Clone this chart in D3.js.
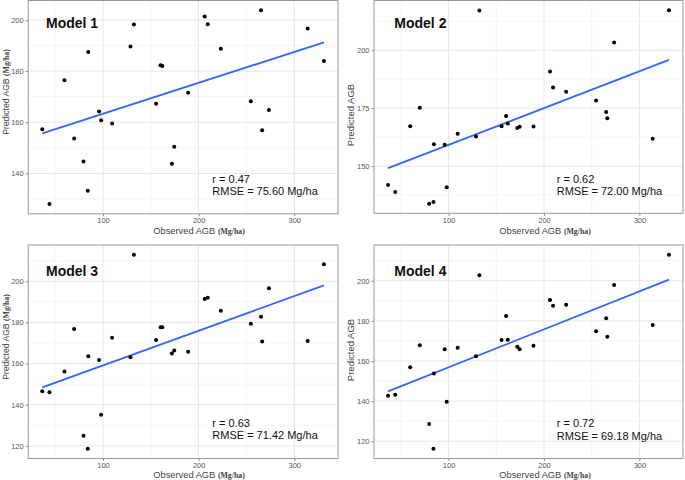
<!DOCTYPE html>
<html><head><meta charset="utf-8">
<script src="https://cdn.jsdelivr.net/npm/d3@7/dist/d3.min.js"></script>
<style>body{margin:0;background:#fff}svg{display:block}</style>
</head><body>
<svg id="c" width="685" height="480"></svg>
<script>
// ---- data ----
const observed = [36.5, 44, 59.7, 69.8, 79.6, 84.1, 84.6, 95.9, 98, 109.5, 128.7, 132.3, 155.5, 160.2, 162, 172, 174.5, 189, 206.3, 209.5, 223.2, 254.6, 265.2, 266.4, 273.5, 314, 331];
const model1 = [157.3, 128.0, 176.4, 153.6, 144.7, 133.2, 187.5, 164.2, 160.8, 159.5, 189.6, 198.2, 167.2, 182.3, 182.0, 143.8, 150.4, 171.5, 201.3, 198.3, 188.7, 168.2, 203.8, 156.9, 164.8, 196.6, 183.9];
const model2 = [141.8, 138.8, 167.2, 175.2, 133.8, 134.5, 159.4, 159.2, 140.9, 164.0, 162.8, 217.2, 167.2, 171.6, 168.4, 166.4, 167.0, 167.1, 190.8, 183.9, 182.1, 178.3, 173.4, 170.7, 203.4, 161.8, 217.3];
const model3 = [146.6, 146.1, 156.1, 176.8, 124.9, 118.6, 163.6, 161.7, 135.1, 172.6, 163.1, 212.9, 171.4, 177.7, 177.7, 164.9, 166.3, 165.8, 191.4, 192.0, 185.7, 179.3, 182.8, 170.7, 196.6, 171.0, 208.3];
const model4 = [142.6, 143.1, 156.9, 167.8, 128.6, 116.2, 153.7, 165.8, 139.7, 166.6, 162.3, 202.8, 170.5, 182.4, 170.6, 167.1, 165.8, 167.6, 190.4, 187.5, 188.0, 174.8, 181.3, 172.1, 197.9, 177.9, 213.0];
const modelNames = ["Model 1", "Model 2", "Model 3", "Model 4"];
const rValues = ["0.47", "0.62", "0.63", "0.72"];
const rmseValues = ["75.60", "72.00", "71.42", "69.18"];
const xTicks = [100, 200, 300];
const yTicks1 = [140, 160, 180, 200];
const yTicks2 = [150, 175, 200];
const yTicks3 = [120, 140, 160, 180, 200];
const yTicks4 = [120, 140, 160, 180, 200];
const xTitle = "Observed AGB";
const yTitle = "Predicted AGB";
const unitText = "(Mg/ha)";

// ---- layout ----
const series = [model1, model2, model3, model4];
const yTickSets = [yTicks1, yTicks2, yTicks3, yTicks4];
const layout = [
  {x0: 28.2, x1: 338, y0: 0.5, y1: 213.8, unitY: true, ylx: 8.5, yly: 92, xlx: 153.3, xly: 233.5, tx: 46, ty: 28.3, sx: 212.3, sy: 182.7, yfs: 8.6},
  {x0: 374, x1: 683, y0: 0.5, y1: 213.3, unitY: false, ylx: 354, yly: 115, xlx: 499.3, xly: 233.5, tx: 394.3, ty: 28.3, sx: 556.7, sy: 182.7, yfs: 9.5},
  {x0: 28.2, x1: 338, y0: 245, y1: 458.5, unitY: true, ylx: 8.5, yly: 337, xlx: 153.3, xly: 478.3, tx: 46, ty: 275.7, sx: 212.3, sy: 426.7, yfs: 8.6},
  {x0: 374, x1: 683, y0: 245, y1: 458.5, unitY: false, ylx: 354, yly: 350, xlx: 499.3, xly: 478.3, tx: 394.3, ty: 275.7, sx: 556.7, sy: 427.3, yfs: 9.5}
];

const svg = d3.select("#c");
const sans = "'Liberation Sans', Arial, sans-serif";
const serif = "'Liberation Serif', 'Times New Roman', serif";

function expand(ext) { const d = ext[1] - ext[0]; return [ext[0] - 0.05 * d, ext[1] + 0.05 * d]; }
function minorOf(ticks, dom) {
  const step = ticks[1] - ticks[0];
  const out = [];
  for (let v = ticks[0] - step / 2; v <= dom[1]; v += step) if (v >= dom[0]) out.push(v);
  return out;
}

series.forEach((ys, i) => {
  const L = layout[i];
  const xd = expand(d3.extent(observed));
  const yd = expand(d3.extent(ys));
  const x = d3.scaleLinear().domain(xd).range([L.x0, L.x1]);
  const y = d3.scaleLinear().domain(yd).range([L.y1, L.y0]);
  const g = svg.append("g");

  // minor grid
  const xMinor = minorOf(xTicks, xd), yMinor = minorOf(yTickSets[i], yd);
  g.selectAll(".xm").data(xMinor).enter().append("line")
    .attr("x1", d => x(d)).attr("x2", d => x(d)).attr("y1", L.y0).attr("y2", L.y1)
    .attr("stroke", "#f2f2f2").attr("stroke-width", 0.8);
  g.selectAll(".ym").data(yMinor).enter().append("line")
    .attr("y1", d => y(d)).attr("y2", d => y(d)).attr("x1", L.x0).attr("x2", L.x1)
    .attr("stroke", "#f2f2f2").attr("stroke-width", 0.8);
  // major grid
  g.selectAll(".xg").data(xTicks).enter().append("line")
    .attr("x1", d => x(d)).attr("x2", d => x(d)).attr("y1", L.y0).attr("y2", L.y1)
    .attr("stroke", "#e6e6e6").attr("stroke-width", 1);
  g.selectAll(".yg").data(yTickSets[i]).enter().append("line")
    .attr("y1", d => y(d)).attr("y2", d => y(d)).attr("x1", L.x0).attr("x2", L.x1)
    .attr("stroke", "#e6e6e6").attr("stroke-width", 1);

  // axes
  const xAxis = d3.axisBottom(x).tickValues(xTicks).tickSize(2.5).tickPadding(1.8);
  const yAxis = d3.axisLeft(y).tickValues(yTickSets[i]).tickSize(2.5).tickPadding(2);
  const gx = g.append("g").attr("transform", `translate(0,${L.y1})`).call(xAxis);
  const gy = g.append("g").attr("transform", `translate(${L.x0},0)`).call(yAxis);
  [gx, gy].forEach(a => {
    a.select(".domain").remove();
    a.selectAll("line").attr("stroke", "#555").attr("stroke-width", 0.7);
    a.selectAll("text").attr("fill", "#555").style("font-family", sans).style("font-size", "7.5px");
  });

  // border
  g.append("rect").attr("x", L.x0).attr("y", L.y0).attr("width", L.x1 - L.x0).attr("height", L.y1 - L.y0)
    .attr("fill", "none").attr("stroke", "#9a9a9a").attr("stroke-width", 1);

  // regression line (least squares)
  const mx = d3.mean(observed), my = d3.mean(ys);
  let sxy = 0, sxx = 0;
  observed.forEach((v, k) => { sxy += (v - mx) * (ys[k] - my); sxx += (v - mx) * (v - mx); });
  const b = sxy / sxx, a0 = my - b * mx;
  const ex = d3.extent(observed);
  g.append("line").attr("x1", x(ex[0])).attr("y1", y(a0 + b * ex[0]))
    .attr("x2", x(ex[1])).attr("y2", y(a0 + b * ex[1]))
    .attr("stroke", "#3366FF").attr("stroke-width", 1.8);

  // points
  g.selectAll(".pt").data(observed).enter().append("circle")
    .attr("cx", d => x(d)).attr("cy", (d, k) => y(ys[k])).attr("r", 2).attr("fill", "#000");

  // title
  g.append("text").attr("x", L.tx).attr("y", L.ty).text(modelNames[i])
    .style("font-family", sans).style("font-weight", "bold").style("font-size", "14px").attr("fill", "#111");

  // stats
  const st = g.append("text").style("font-family", sans).style("font-size", "11px").attr("fill", "#111");
  st.append("tspan").attr("x", L.sx).attr("y", L.sy).text("r = " + rValues[i]);
  st.append("tspan").attr("x", L.sx).attr("y", L.sy + 12.3).text("RMSE = " + rmseValues[i] + " Mg/ha");

  // x title
  const xt = g.append("text").attr("x", L.xlx).attr("y", L.xly).attr("fill", "#444");
  xt.append("tspan").style("font-family", sans).style("font-size", "9.3px").text(xTitle + " ");
  xt.append("tspan").style("font-family", serif).style("font-weight", "bold").style("font-size", "7.8px").text(unitText);

  // y title
  const yt = g.append("text").attr("transform", `translate(${L.ylx},${L.yly}) rotate(-90)`)
    .attr("text-anchor", "middle").attr("fill", "#444");
  yt.append("tspan").style("font-family", sans).style("font-size", L.yfs + "px").text(yTitle + (L.unitY ? " " : ""));
  if (L.unitY) yt.append("tspan").style("font-family", serif).style("font-weight", "bold").style("font-size", "7.8px").text(unitText);
});
</script>
</body></html>
